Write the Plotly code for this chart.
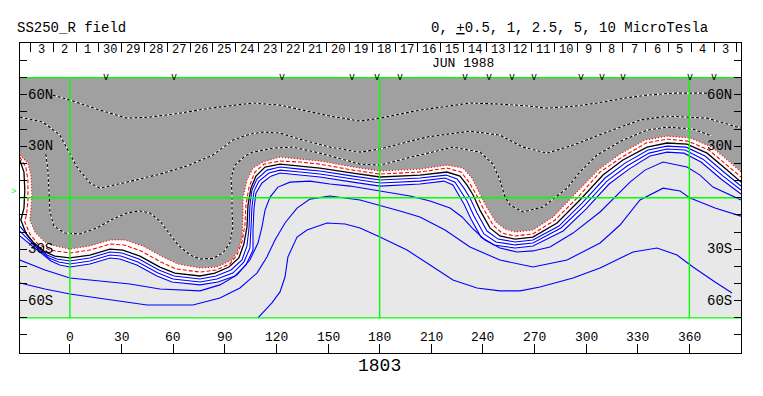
import plotly.graph_objects as go

# ---------------- frame / axes ----------------
LON_RANGE = [-29.0, 390.0]
LAT_RANGE = [-90.5, 90.2]
LAT_EDGE = 70

bottom_tick_lons = list(range(0, 361, 30))
bottom_tick_labels = [str(v) for v in bottom_tick_lons]
lat_tick_vals = list(range(-90, 91, 10))
lat_label_vals = [60, 30, -30, -60]
lat_label_text = ["60N", "30N", "30S", "60S"]
grid_lons = [0, 180, 360]
grid_lats = [-70, 0, 70]

day_labels = ["3", "2", "1", "30", "29", "28", "27", "26", "25", "24", "23", "22",
              "21", "20", "19", "18", "17", "16", "15", "14", "13", "12", "11", "10",
              "9", "8", "7", "6", "5", "4", "3"]
day_first_boundary = -22.84
day_step_deg = 13.24
obs_marks_lon = [20.9, 60.5, 123.2, 164.2, 178.2, 192.1, 229.6, 243.8, 256.9,
                 269.7, 297.0, 309.5, 321.2, 360.1, 374.3]

# ---------------- contour lines (lon, lat) ----------------
neutral_line = [(-29.1, 22.0), (-26.7, 15.0), (-26.2, 4.5), (-26.7, -6.0), (-28.5, -13.0),
                (-25.6, -20.6), (-21.5, -25.8), (-14.5, -31.6), (-8.7, -34.0), (0, -35.1),
                (11.6, -33.4), (23.3, -29.9), (30.8, -30.5), (40.7, -34.0), (52.3, -40.4),
                (61.0, -43.9), (75.6, -45.6), (84.3, -43.9), (92.4, -40.4), (98.2, -35.1),
                (101.1, -27.0), (102.9, -17.1), (103.5, -4.3), (105.2, 5.6), (108.1, 12.6),
                (113.4, 17.9), (122.1, 19.6), (133.7, 18.5), (145.3, 17.3), (164.5, 14.4),
                (180.2, 12.1), (203.4, 13.2), (219.1, 15.0), (226.7, 12.6), (230.8, 7.4),
                (234.3, 1.6), (238.3, -7.2), (244.1, -17.6), (249.9, -22.3), (258.7, -24.1),
                (269.1, -22.9), (283.1, -14.7), (296.4, -1.3), (309.8, 13.2), (321.4, 22.0),
                (335.4, 29.5), (347.0, 31.9), (358.6, 31.3), (370.3, 26.0), (381.9, 16.1),
                (390.0, 9.1)]

neg_outer_line = [(-29.1, 24.9), (-24.4, 20.2), (-22.7, 13.2), (-22.1, 1.6), (-22.7, -7.2),
                  (-23.3, -13.0), (-20.3, -20.0), (-14.5, -25.8), (-8.7, -28.1), (0, -29.9),
                  (11.6, -28.1), (23.3, -24.6), (32.0, -24.6), (42.4, -28.1), (54.1, -34.5),
                  (62.8, -38.6), (75.6, -40.9), (85.4, -40.4), (94.2, -36.3), (97.7, -30.5),
                  (100.0, -22.9), (100.6, -11.2), (100.6, -0.2), (102.9, 10.3), (106.4, 17.3),
                  (112.2, 20.8), (122.1, 23.7), (133.7, 22.5), (145.3, 21.4), (164.5, 17.9),
                  (180.2, 15.6), (203.4, 16.7), (219.1, 19.0), (228.4, 17.3), (233.7, 11.5),
                  (237.7, 3.3), (241.8, -4.8), (247.6, -14.2), (252.9, -18.2), (258.7, -20.0),
                  (269.1, -18.8), (280.8, -11.2), (293.5, 2.2), (306.9, 16.1), (319.7, 25.5),
                  (334.2, 33.6), (347.0, 35.9), (360.4, 34.8), (373.2, 29.5), (383.6, 20.8),
                  (390.0, 15.0)]

neg_inner_line = [(-29.1, 23.7), (-25.6, 17.9), (-24.4, 10.3), (-24.4, -1.3), (-25.0, -8.3),
                  (-26.2, -14.2), (-23.3, -21.1), (-18.6, -27.0), (-11.6, -30.5), (0, -32.2),
                  (11.6, -30.5), (23.3, -27.0), (31.4, -27.5), (41.3, -31.0), (52.9, -37.5),
                  (61.6, -41.5), (75.6, -43.3), (84.9, -42.1), (93.0, -38.6), (97.1, -33.4),
                  (100.0, -25.8), (101.7, -15.9), (102.3, -4.3), (104.1, 6.2), (107.5, 15.0),
                  (112.8, 19.6), (122.1, 21.4), (133.7, 20.8), (145.3, 19.6), (164.5, 16.1),
                  (180.2, 13.8), (203.4, 15.0), (219.1, 17.3), (227.3, 15.0), (231.9, 9.1),
                  (236.0, 2.2), (240.1, -6.0), (245.9, -15.9), (251.1, -20.6), (258.7, -22.3),
                  (269.1, -21.1), (281.9, -13.0), (295.3, 0.4), (308.1, 15.0), (320.9, 23.7),
                  (334.8, 31.9), (347.0, 34.2), (359.2, 33.0), (371.4, 27.8), (382.5, 18.5),
                  (390.0, 12.1)]

pos_line_a = [(-29.1, -16.5), (-24.4, -22.3), (-20.3, -27.5), (-13.4, -33.4), (-7.6, -35.7),
              (0, -36.9), (11.6, -35.1), (23.3, -31.6), (30.2, -32.2), (40.1, -35.7),
              (51.7, -42.1), (60.5, -45.6), (75.6, -47.4), (84.9, -45.6), (93.6, -42.1),
              (100.0, -36.3), (102.9, -28.1), (104.1, -17.6), (104.6, -4.8), (105.8, 4.5),
              (108.7, 10.9), (114.5, 16.1), (122.1, 17.9), (133.7, 16.7), (145.3, 15.6),
              (164.5, 12.6), (180.2, 10.3), (203.4, 11.5), (218.6, 13.2), (225.0, 10.9),
              (229.0, 5.6), (232.5, -0.2), (236.6, -8.9), (242.4, -19.4), (248.8, -24.1),
              (258.7, -25.8), (269.1, -24.6), (284.2, -16.5), (297.6, -3.1), (311.0, 11.5),
              (322.6, 20.2), (336.0, 27.8), (347.0, 30.1), (358.1, 29.5), (369.1, 24.3),
              (380.7, 14.4), (390.0, 6.8)]

pos_line_b = [(-29.1, -19.4), (-23.8, -24.6), (-19.2, -29.3), (-12.2, -35.1), (-6.4, -37.5),
              (0, -38.6), (11.6, -36.9), (23.3, -33.4), (29.6, -34.0), (39.5, -37.5),
              (51.2, -43.9), (59.9, -47.4), (75.6, -49.1), (85.4, -47.4), (94.7, -43.9),
              (101.1, -37.5), (104.6, -29.3), (105.2, -18.2), (105.8, -5.4), (107.0, 3.9),
              (109.9, 9.7), (115.7, 14.4), (122.1, 16.1), (133.7, 15.0), (145.3, 13.8),
              (164.5, 10.9), (180.2, 8.6), (203.4, 9.7), (218.0, 11.5), (223.8, 9.1),
              (227.3, 3.9), (230.8, -1.9), (234.8, -10.7), (240.6, -21.1), (247.6, -25.8),
              (258.7, -27.5), (269.1, -26.4), (285.4, -17.6), (298.8, -4.8), (312.1, 9.7),
              (323.8, 18.5), (336.6, 26.0), (347.0, 28.4), (357.5, 27.8), (367.9, 22.5),
              (379.6, 12.6), (390.0, 4.5)]

pos_line_c = [(-29.1, -22.3), (-23.3, -27.0), (-18.0, -31.0), (-11.0, -36.9), (-5.8, -39.2),
              (0, -40.4), (11.6, -38.6), (23.3, -35.1), (29.1, -35.7), (38.9, -39.2),
              (50.6, -45.6), (59.3, -49.1), (75.6, -50.8), (86.0, -49.1), (95.9, -45.6),
              (102.3, -39.2), (106.4, -30.5), (106.4, -18.8), (107.0, -6.0), (108.1, 2.7),
              (111.6, 8.6), (116.8, 12.6), (122.1, 14.4), (133.7, 13.2), (145.3, 12.1),
              (164.5, 9.1), (180.2, 6.8), (203.4, 8.0), (217.4, 9.7), (222.6, 7.4),
              (225.5, 2.2), (229.0, -3.7), (233.1, -12.4), (238.9, -22.9), (246.5, -27.5),
              (258.7, -29.3), (269.1, -28.1), (286.6, -19.4), (299.9, -6.6), (313.3, 8.0),
              (324.9, 16.7), (337.1, 24.3), (347.0, 26.6), (356.9, 26.0), (366.8, 20.8),
              (378.4, 10.9), (390.0, 2.2)]

pos_line_d = [(-29.1, -36.3), (-14.5, -42.1), (0, -46.8), (17.4, -48.5), (34.9, -50.3),
              (52.3, -53.2), (75.6, -54.3), (87.2, -50.8), (97.1, -45.0), (104.6, -36.3),
              (109.3, -26.4), (111.6, -17.1), (113.4, -7.2), (116.3, 0.4), (120.9, 6.2),
              (127.9, 9.1), (139.5, 9.7), (151.1, 8.0), (162.8, 6.8), (180.2, 3.9),
              (197.6, 1.0), (209.3, -1.9), (220.9, -6.0), (227.9, -11.2), (233.7, -17.6),
              (241.2, -24.6), (249.9, -29.3), (259.8, -31.6), (269.1, -31.0), (279.0, -28.7),
              (292.4, -20.6), (308.1, -8.3), (318.0, 1.6), (325.5, 9.1), (334.2, 16.1),
              (344.7, 20.8), (358.6, 17.9), (366.2, 13.2), (373.7, 6.2), (390.0, -1.3)]

pos_line_e = [(-29.1, -49.7), (-14.5, -53.2), (0, -56.1), (23.3, -59.6), (44.8, -62.5),
              (71.5, -62.5), (87.2, -58.4), (98.8, -52.6), (108.7, -43.9), (114.5, -34.5),
              (119.2, -24.6), (125.0, -14.7), (132.0, -6.0), (139.5, -0.8), (151.1, 1.0),
              (168.6, -1.3), (180.2, -4.3), (191.8, -7.7), (203.4, -11.2), (218.0, -18.8),
              (232.5, -28.7), (249.9, -36.3), (269.1, -40.4), (288.9, -36.3), (308.1, -26.4),
              (319.7, -15.9), (331.3, -1.3), (344.7, 5.6), (354.6, 3.9), (360.4, -0.2),
              (374.9, -6.0), (390.0, -10.7)]

pos_line_f = [(109.3, -70.0), (117.4, -61.3), (122.1, -54.9), (125.0, -46.2), (126.7, -34.5),
              (132.0, -22.9), (137.8, -18.8), (149.4, -14.7), (159.9, -15.3), (168.6, -17.6),
              (180.2, -22.9), (195.9, -30.5), (209.3, -39.2), (222.6, -47.9), (236.6, -52.6),
              (249.9, -54.3), (261.6, -54.3), (273.2, -52.0), (292.4, -46.8), (308.1, -40.9),
              (327.3, -31.6), (341.2, -29.3), (352.8, -33.4), (362.1, -40.4), (374.9, -49.1),
              (384.8, -55.5)]

neg_line_1 = [(-9.9, 59.8), (0, 56.9), (17.4, 51.1), (33.1, 46.4), (46.5, 47.0), (63.9, 49.3),
              (81.4, 52.2), (94.7, 54.0), (106.4, 55.2), (122.1, 54.0), (135.4, 51.1),
              (151.1, 47.6), (168.6, 44.7), (180.2, 46.4), (203.4, 51.1), (232.5, 55.2),
              (249.9, 54.6), (267.4, 53.4), (277.3, 52.2), (293.5, 53.4), (306.3, 55.2),
              (322.6, 58.1), (335.4, 59.8), (350.5, 61.0), (370.3, 61.0)]

neg_line_2 = [(-29.1, 47.0), (-15.7, 44.1), (-5.8, 36.5), (-1.2, 27.8), (4.1, 17.9),
              (11.6, 8.6), (17.4, 5.6), (33.1, 9.1), (52.3, 13.8), (68.0, 18.5), (83.1, 24.9),
              (94.7, 33.6), (104.6, 37.1), (112.2, 38.3), (122.1, 37.7), (135.4, 33.6),
              (151.1, 29.5), (168.6, 26.6), (180.2, 28.4), (207.5, 35.4), (232.5, 38.8),
              (249.9, 36.5), (263.3, 29.5), (277.3, 26.0), (292.4, 30.7), (312.1, 38.3),
              (331.3, 45.3), (347.0, 47.6), (370.3, 46.4), (390.0, 40.6)]

neg_line_3 = [(-14.0, 25.5), (-12.8, 16.1), (-12.2, 4.5), (-11.6, -8.3), (-9.3, -16.5),
              (-2.9, -20.6), (5.8, -21.1), (15.7, -17.6), (25.0, -12.4), (33.1, -8.9),
              (40.7, -7.7), (46.5, -8.9), (52.3, -13.6), (57.0, -20.0), (62.8, -27.5),
              (69.8, -33.4), (75.6, -35.7), (83.1, -35.4), (88.9, -32.2), (93.0, -26.4),
              (94.7, -17.1), (94.2, -7.2), (94.2, 2.7), (93.6, 11.5), (95.9, 19.0),
              (101.7, 24.3), (106.4, 26.6), (118.0, 28.9), (129.6, 29.5), (145.3, 26.0),
              (168.6, 19.6), (180.2, 19.0), (195.9, 23.1), (222.6, 29.5), (238.3, 26.6),
              (245.9, 19.6), (249.9, 10.3), (252.9, 0.4), (255.8, -4.3), (263.3, -8.3),
              (274.9, -5.4), (283.1, 1.0), (288.9, 5.6), (296.4, 15.0), (306.3, 24.9),
              (321.4, 33.6), (335.4, 39.4), (347.0, 41.2), (362.1, 40.0), (373.2, 35.9)]

# ---------------- colours ----------------
DARK = "#a0a0a0"
LIGHT = "#e8e8e8"
GREEN = "#00ff00"
BLUE = "#0000ff"
RED = "#ff0000"
FONT = "Liberation Mono"


def xs(pts):
    return [p[0] for p in pts]


def ys(pts):
    return [p[1] for p in pts]


fig = go.Figure()

# fills: white band above the outermost positive contour, dark grey above the outer negative one
fig.add_trace(go.Scatter(
    x=xs(pos_line_c) + [LON_RANGE[1], LON_RANGE[0]],
    y=ys(pos_line_c) + [LAT_EDGE, LAT_EDGE],
    fill="toself", fillcolor="white", mode="none", hoverinfo="skip"))
fig.add_trace(go.Scatter(
    x=xs(neg_outer_line) + [LON_RANGE[1], LON_RANGE[0]],
    y=ys(neg_outer_line) + [LAT_EDGE, LAT_EDGE],
    fill="toself", fillcolor=DARK, mode="none", hoverinfo="skip"))


def add_line(pts, color, width=1.1, dash="solid"):
    fig.add_trace(go.Scatter(x=xs(pts), y=ys(pts), mode="lines",
                             line=dict(color=color, width=width, dash=dash),
                             hoverinfo="skip"))


# negative-field dashed contours in the dark area (black / white)
for pts in (neg_line_1, neg_line_2, neg_line_3):
    add_line(pts, "white", 1.1)
    add_line(pts, "black", 1.1, "3px,2px")

# near-neutral contours
add_line(neg_outer_line, RED, 1.2, "1px,2px")
add_line(neg_inner_line, RED, 1.1, "4px,2px")
for pts in (pos_line_a, pos_line_b, pos_line_c, pos_line_d, pos_line_e, pos_line_f):
    add_line(pts, BLUE, 1.1)
add_line(neutral_line, "black", 1.3)

# green reference lines
for lon in grid_lons:
    fig.add_trace(go.Scatter(x=[lon, lon], y=[-LAT_EDGE, LAT_EDGE], mode="lines",
                             line=dict(color=GREEN, width=1.4), hoverinfo="skip"))
for lat in grid_lats:
    fig.add_trace(go.Scatter(x=LON_RANGE, y=[lat, lat], mode="lines",
                             line=dict(color=GREEN, width=1.4), hoverinfo="skip"))

# invisible trace to activate the top (day) axis
fig.add_trace(go.Scatter(x=[LON_RANGE[0]], y=[0], xaxis="x2", mode="markers",
                         marker=dict(opacity=0), hoverinfo="skip"))

day_boundaries = [day_first_boundary + day_step_deg * k for k in range(len(day_labels) + 1)]

annotations = []
# title / units
annotations.append(dict(text="SS250_R field", xref="paper", yref="paper", x=-0.0065, y=1.048,
                        xanchor="left", yanchor="middle", showarrow=False,
                        font=dict(family=FONT, size=14, color="black")))
annotations.append(dict(text="0, <u>+</u>0.5, 1, 2.5, 5, 10 MicroTesla", xref="paper",
                        yref="paper", x=0.957, y=1.048, xanchor="right", yanchor="middle",
                        showarrow=False, font=dict(family=FONT, size=14, color="black")))
# day numbers
for i, lab in enumerate(day_labels):
    annotations.append(dict(text=lab, x=day_first_boundary + day_step_deg * (i + 0.5), y=86.1,
                            xref="x", yref="y", showarrow=False, xanchor="center",
                            yanchor="middle", borderpad=0,
                            font=dict(family=FONT, size=12, color="black")))
annotations.append(dict(text="JUN 1988", x=228.4, y=78.3, xref="x", yref="y", showarrow=False,
                        xanchor="center", yanchor="middle", borderpad=0,
                        font=dict(family=FONT, size=13, color="black")))
for lon in obs_marks_lon:
    annotations.append(dict(text="v", x=lon, y=LAT_EDGE, xref="x", yref="y", showarrow=False,
                            xanchor="center", yanchor="bottom", yshift=-6, borderpad=0,
                            font=dict(family=FONT, size=10, color="black")))
# latitude labels
for v, t in zip(lat_label_vals, lat_label_text):
    annotations.append(dict(text=t, x=-25.5, y=v, xref="x", yref="y", showarrow=False,
                            xanchor="left", yanchor="middle",
                            font=dict(family=FONT, size=14, color="black")))
    annotations.append(dict(text=t, x=385.8, y=v, xref="x", yref="y", showarrow=False,
                            xanchor="right", yanchor="middle",
                            font=dict(family=FONT, size=14, color="black")))
# longitude labels
for v, t in zip(bottom_tick_lons, bottom_tick_labels):
    annotations.append(dict(text=t, x=v, y=-81.5, xref="x", yref="y", showarrow=False,
                            xanchor="center", yanchor="middle",
                            font=dict(family=FONT, size=13, color="black")))
annotations.append(dict(text="1803", x=180, y=-0.042, xref="x", yref="paper", showarrow=False,
                        xanchor="center", yanchor="middle",
                        font=dict(family=FONT, size=18, color="black")))
annotations.append(dict(text=">", x=-0.003, y=3.3, xref="paper", yref="y", showarrow=False,
                        xanchor="right", yanchor="middle",
                        font=dict(family=FONT, size=9, color=GREEN)))

fig.update_layout(
    width=763, height=396,
    margin=dict(l=20, r=22, t=43, b=43, pad=0, autoexpand=False),
    paper_bgcolor="white", plot_bgcolor="white",
    showlegend=False,
    xaxis=dict(range=LON_RANGE, showgrid=False, zeroline=False, showline=True,
               linecolor="black", linewidth=1, mirror=True, ticks="inside", ticklen=9,
               tickcolor="black", tickwidth=1, tickvals=bottom_tick_lons,
               showticklabels=False, fixedrange=True, automargin=False),
    xaxis2=dict(range=LON_RANGE, overlaying="x", side="top", showgrid=False,
                zeroline=False, showline=False, ticks="inside", ticklen=9,
                tickcolor="black", tickwidth=1, tickvals=day_boundaries,
                showticklabels=False, fixedrange=True, automargin=False),
    yaxis=dict(range=LAT_RANGE, showgrid=False, zeroline=False, showline=True,
               linecolor="black", linewidth=1, mirror="ticks", ticks="inside", ticklen=7,
               tickcolor="black", tickwidth=1, tickvals=lat_tick_vals,
               showticklabels=False, fixedrange=True, automargin=False),
    shapes=[dict(type="rect", xref="x", yref="y", x0=LON_RANGE[0], x1=LON_RANGE[1],
                 y0=-LAT_EDGE, y1=LAT_EDGE, fillcolor=LIGHT, line=dict(width=0),
                 layer="below")],
    annotations=annotations,
)

fig.write_html("out.html", config={"displayModeBar": False},
               post_script="document.body.style.margin='0';document.body.style.padding='0';")
